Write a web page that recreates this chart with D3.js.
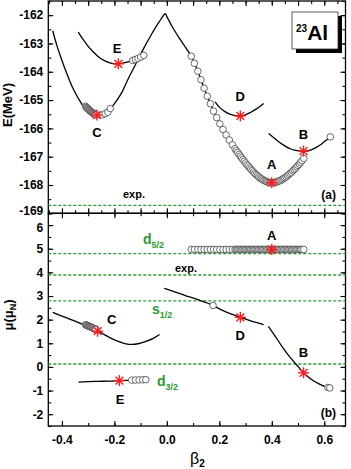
<!DOCTYPE html>
<html><head><meta charset="utf-8">
<script src="https://cdn.jsdelivr.net/npm/d3@7"></script>
<style>
body{margin:0;background:#fff}
text{font-family:"Liberation Sans",Arial,sans-serif;font-weight:bold}
</style>
</head><body><script>
const Width = 351, Height = 469;

// ---- panel (a): energy curves, [beta2, E]
const curveCA = [[-0.435,-162.55],[-0.42,-163.05],[-0.40,-163.6],[-0.38,-164.1],[-0.36,-164.55],[-0.34,-164.9],
  [-0.32,-165.2],[-0.30,-165.4],[-0.28,-165.52],[-0.265,-165.55],[-0.25,-165.52],[-0.23,-165.42],[-0.21,-165.25],
  [-0.19,-165.0],[-0.17,-164.7],[-0.15,-164.3],[-0.12,-163.75],[-0.09,-163.2],[-0.06,-162.7],[-0.03,-162.25],
  [-0.006,-161.95],[0.0,-162.05],[0.02,-162.4],[0.05,-162.85],[0.093,-163.45],[0.118,-163.98],[0.142,-164.58],
  [0.166,-165.13],[0.19,-165.62],[0.214,-166.04],[0.238,-166.41],[0.26,-166.72],[0.28,-166.98],[0.30,-167.22],
  [0.32,-167.44],[0.34,-167.63],[0.36,-167.78],[0.38,-167.88],[0.40,-167.92],[0.42,-167.89],[0.44,-167.8],
  [0.46,-167.67],[0.48,-167.5],[0.50,-167.31],[0.522,-167.06]];
const curveE = [[-0.338,-162.6],[-0.32,-162.85],[-0.30,-163.1],[-0.28,-163.3],[-0.26,-163.48],[-0.24,-163.6],
  [-0.22,-163.68],[-0.20,-163.72],[-0.185,-163.72],[-0.16,-163.68],[-0.13,-163.6],[-0.10,-163.48],[-0.087,-163.4]];
const curveD = [[0.184,-165.06],[0.20,-165.25],[0.22,-165.4],[0.24,-165.5],[0.26,-165.55],[0.28,-165.56],
  [0.30,-165.52],[0.32,-165.43],[0.34,-165.32],[0.369,-165.12]];
const curveB = [[0.388,-166.18],[0.41,-166.35],[0.43,-166.5],[0.45,-166.62],[0.47,-166.72],[0.49,-166.78],
  [0.51,-166.8],[0.53,-166.8],[0.55,-166.76],[0.57,-166.67],[0.59,-166.55],[0.61,-166.4],[0.623,-166.3]];

// constrained-deformation points of state A
const circA_beta = [0.093,0.105,0.118,0.13,0.142,0.154,0.166,0.178,0.19,0.202,0.214,0.226,0.238,0.25,
  0.26,0.265,0.27,0.275,0.28,0.285,0.29,0.295,0.30,0.305,0.31,0.315,0.32,0.325,0.33,0.335,0.34,0.345,0.35,0.355,
  0.36,0.365,0.37,0.375,0.38,0.385,0.39,0.395,0.40,0.405,0.41,0.415,0.42,0.425,0.43,0.435,0.44,0.445,0.45,0.455,
  0.46,0.465,0.47,0.475,0.48,0.485,0.49,0.495,0.50,0.505,0.51,0.515,0.522];
const circA_E = [-163.45,-163.7,-163.98,-164.28,-164.58,-164.86,-165.13,-165.39,-165.62,-165.84,-166.04,-166.23,
  -166.41,-166.58,
  -166.72,-166.79,-166.85,-166.92,-166.98,-167.04,-167.1,-167.16,-167.22,-167.28,-167.33,-167.39,-167.44,-167.49,
  -167.54,-167.59,-167.63,-167.67,-167.71,-167.75,-167.78,-167.81,-167.84,-167.86,-167.88,-167.9,-167.91,-167.92,
  -167.92,-167.92,-167.91,-167.9,-167.89,-167.87,-167.85,-167.83,-167.8,-167.77,-167.74,-167.71,-167.67,-167.63,
  -167.59,-167.55,-167.5,-167.46,-167.41,-167.36,-167.31,-167.26,-167.2,-167.14,-167.06];
const circA_mu = [4.97,4.97,4.97,4.97,4.97,4.97,4.97,4.97,4.97,4.97,4.97,4.97,4.97,4.97,
  4.97,4.97,4.97,4.97,4.97,4.97,4.97,4.97,4.97,4.97,4.97,4.97,4.97,4.97,4.97,4.97,4.97,4.97,4.97,4.97,
  4.97,4.97,4.97,4.97,4.97,4.97,4.97,4.97,4.97,4.97,4.97,4.97,4.97,4.97,4.97,4.97,4.97,4.97,4.97,4.97,
  4.97,4.97,4.97,4.97,4.97,4.97,4.97,4.97,4.97,4.97,4.97,4.97,4.97];

const circC_beta = [-0.31,-0.3075,-0.305,-0.3025,-0.30,-0.2975,-0.295,-0.2925,-0.29,-0.2875,-0.285,-0.2825,
  -0.28,-0.2775,-0.275,-0.2725,-0.27,-0.245,-0.235,-0.225,-0.216];
const circC_E = [-165.22,-165.25,-165.27,-165.3,-165.32,-165.34,-165.36,-165.38,-165.4,-165.42,-165.44,-165.46,
  -165.47,-165.49,-165.5,-165.51,-165.52,-165.52,-165.48,-165.43,-165.3];
const circE_beta = [-0.13,-0.12,-0.11,-0.10,-0.088];
const circE_E = [-163.6,-163.57,-163.53,-163.48,-163.42];
const circB_beta = [0.623];
const circB_E = [-166.3];

// stars [beta2, E] and state labels [name, beta2, E of baseline]
const starsA = [[0.40,-167.92],[0.521,-166.8],[-0.267,-165.53],[0.28,-165.56],[-0.185,-163.72]];
const labelsA = [["A",0.40,-167.45],["B",0.521,-166.39],["C",-0.267,-166.32],["D",0.28,-165.05],["E",-0.19,-163.35]];
const expE = -168.72;

// ---- panel (b): magnetic moments, [beta2, mu]
const momC = [[-0.435,2.31],[-0.40,2.15],[-0.36,1.98],[-0.32,1.8],[-0.28,1.6],[-0.264,1.51],[-0.24,1.38],
  [-0.21,1.2],[-0.18,1.06],[-0.16,0.99],[-0.134,0.95],[-0.11,0.98],[-0.08,1.08],[-0.05,1.22],[-0.028,1.37]];
const momE = [[-0.337,-0.64],[-0.30,-0.62],[-0.26,-0.61],[-0.22,-0.6],[-0.181,-0.58],[-0.14,-0.56],[-0.10,-0.55],[-0.08,-0.54]];
const momD = [[-0.01,3.32],[0.03,3.18],[0.07,3.02],[0.11,2.88],[0.15,2.72],[0.176,2.60],[0.21,2.4],[0.25,2.22],
  [0.28,2.10],[0.32,1.95],[0.369,1.79]];
const momB = [[0.387,1.72],[0.41,1.35],[0.44,0.85],[0.47,0.4],[0.50,0.02],[0.521,-0.25],[0.55,-0.52],[0.58,-0.72],
  [0.60,-0.82],[0.621,-0.89]];

const circCb_beta = [-0.31,-0.3075,-0.305,-0.3025,-0.30,-0.2975,-0.295,-0.2925,-0.29,-0.2875,-0.285,-0.2825,
  -0.28,-0.2775,-0.275,-0.2725,-0.27];
const circCb_mu = [1.78,1.77,1.76,1.75,1.73,1.72,1.71,1.7,1.69,1.67,1.66,1.65,1.63,1.62,1.61,1.6,1.58];
const circEb_beta = [-0.134,-0.12,-0.106,-0.092,-0.08];
const circEb_mu = [-0.56,-0.555,-0.55,-0.545,-0.54];
const circDb = [[0.176,2.60]];
const circBb = [[0.614,-0.87],[0.621,-0.89]];

const starsB = [[0.40,4.97],[0.521,-0.25],[-0.264,1.51],[0.28,2.10],[-0.181,-0.58]];
const labelsB = [["A",0.40,5.39],["B",0.521,0.41],["C",-0.21,1.82],["D",0.28,1.16],["E",-0.178,-1.59]];

// schmidt / exp lines: d5/2, exp, s1/2, d3/2
const refMu = [4.793, 3.889, 2.793, 0.124];

// ---- scales
const x = d3.scaleLinear().domain([-0.452, 0.681]).range([48.3, 345.5]);
const yA = d3.scaleLinear().domain([-169, -161.5]).range([213.3, 1]);
const yB = d3.scaleLinear().domain([-2.5, 6.5]).range([426, 213.3]);

const svg = d3.select('body').append('svg')
  .attr('width', Width).attr('height', Height);
svg.append('rect').attr('width', Width).attr('height', Height).attr('fill', '#fff');

const green = '#2e9a2e';

const axisStyle = g => {
  g.select('.domain').remove();
  g.selectAll('line').attr('stroke', '#000').attr('stroke-width', 1.1);
  g.selectAll('text').attr('font-size', 12).attr('fill', '#000')
    .attr('font-family', '"Liberation Sans",Arial,sans-serif').attr('font-weight', 'bold');
};

const range = (a, b, s) => d3.range(a, b + s / 2, s);

function drawFrame(y, yMajor, yMinor, xMajorTop, xMinorTop, xMajorBot, xMinorBot, xLabels) {
  const [y0, y1] = y.range();
  // left
  svg.append('g').attr('transform', `translate(${x.range()[0]},0)`)
    .call(d3.axisLeft(y).tickValues(yMinor).tickSize(-3).tickFormat('')).call(axisStyle);
  const left = svg.append('g').attr('transform', `translate(${x.range()[0]},0)`)
    .call(d3.axisLeft(y).tickValues(yMajor).tickSize(-5).tickPadding(5).tickFormat(d => String(Math.round(d))))
    .call(axisStyle);
  // right
  svg.append('g').attr('transform', `translate(${x.range()[1]},0)`)
    .call(d3.axisRight(y).tickValues(yMinor).tickSize(-3).tickFormat('')).call(axisStyle);
  svg.append('g').attr('transform', `translate(${x.range()[1]},0)`)
    .call(d3.axisRight(y).tickValues(yMajor).tickSize(-5).tickFormat('')).call(axisStyle);
  // top
  svg.append('g').attr('transform', `translate(0,${y1})`)
    .call(d3.axisTop(x).tickValues(xMinorTop).tickSize(-3).tickFormat('')).call(axisStyle);
  svg.append('g').attr('transform', `translate(0,${y1})`)
    .call(d3.axisTop(x).tickValues(xMajorTop).tickSize(-5).tickFormat('')).call(axisStyle);
  // bottom
  svg.append('g').attr('transform', `translate(0,${y0})`)
    .call(d3.axisBottom(x).tickValues(xMinorBot).tickSize(-3).tickFormat('')).call(axisStyle);
  svg.append('g').attr('transform', `translate(0,${y0})`)
    .call(d3.axisBottom(x).tickValues(xMajorBot).tickSize(-5).tickPadding(9)
      .tickFormat(xLabels ? (d => (Math.abs(d) < 1e-9 ? 0 : d).toFixed(1)) : ''))
    .call(axisStyle);
  svg.append('rect')
    .attr('x', x.range()[0]).attr('y', y1)
    .attr('width', x.range()[1] - x.range()[0]).attr('height', y0 - y1)
    .attr('fill', 'none').attr('stroke', '#000').attr('stroke-width', 1.3);
  return left;
}

const line = (y) => d3.line().x(d => x(d[0])).y(d => y(d[1])).curve(d3.curveCatmullRom);

function drawCurves(y, curves) {
  svg.append('g').selectAll('path').data(curves).join('path')
    .attr('d', line(y)).attr('fill', 'none').attr('stroke', '#000').attr('stroke-width', 1.3);
}
function drawCircles(y, pts) {
  svg.append('g').selectAll('circle').data(pts).join('circle')
    .attr('cx', d => x(d[0])).attr('cy', d => y(d[1])).attr('r', 3.3)
    .attr('fill', '#fff').attr('stroke', '#444').attr('stroke-width', 0.8);
}
function drawStars(y, pts) {
  const g = svg.append('g').selectAll('g').data(pts).join('g')
    .attr('transform', d => `translate(${x(d[0])},${y(d[1])})`);
  [0, 45, 90, 135].forEach(a => {
    g.append('line').attr('x1', -5.5).attr('x2', 5.5).attr('y1', 0).attr('y2', 0)
      .attr('transform', `rotate(${a})`).attr('stroke', '#ff1a1a').attr('stroke-width', 1.4);
  });
}
function drawLabels(y, labs) {
  svg.append('g').selectAll('text').data(labs).join('text')
    .attr('x', d => x(d[1])).attr('y', d => y(d[2])).attr('text-anchor', 'middle')
    .attr('font-size', 13).text(d => d[0]);
}
const zip = (a, b) => a.map((v, i) => [v, b[i]]);

// ---- panel (a)
const leftA = drawFrame(yA, range(-169, -162, 1), range(-169, -161.5, 0.5),
  range(-0.4, 0.6, 0.1), range(-0.45, 0.65, 0.05), range(-0.4, 0.6, 0.1), range(-0.45, 0.65, 0.05), false);
leftA.selectAll('text').filter(d => d === -169).attr('dy', '0.1em');

svg.append('line').attr('x1', x.range()[0]).attr('x2', x.range()[1])
  .attr('y1', yA(expE)).attr('y2', yA(expE))
  .attr('stroke', green).attr('stroke-width', 1.3).attr('stroke-dasharray', '3,2');
svg.append('text').attr('x', 134).attr('y', yA(expE) - 7).attr('text-anchor', 'middle')
  .attr('font-size', 11).text('exp.');

drawCurves(yA, [curveCA, curveE, curveD, curveB]);
drawCircles(yA, zip(circC_beta, circC_E));
drawCircles(yA, zip(circE_beta, circE_E));
drawCircles(yA, zip(circA_beta, circA_E));
drawCircles(yA, zip(circB_beta, circB_E));
drawStars(yA, starsA);
drawLabels(yA, labelsA);
svg.append('text').attr('x', 336).attr('y', 199).attr('text-anchor', 'end').attr('font-size', 12).text('(a)');

// 23Al box
svg.append('rect').attr('x', 296).attr('y', 16).attr('width', 46).attr('height', 37).attr('fill', '#000');
svg.append('rect').attr('x', 292).attr('y', 12).attr('width', 46).attr('height', 37)
  .attr('fill', '#fff').attr('stroke', '#333').attr('stroke-width', 0.8);
const al = svg.append('text').attr('x', 296).attr('y', 40);
al.append('tspan').attr('font-size', 10).attr('dy', -8).text('23');
al.append('tspan').attr('font-size', 21).attr('dy', 8).text('Al');

// ---- panel (b)
const leftB = drawFrame(yB, range(-2, 6, 1), range(-2.5, 6.5, 0.5),
  range(-0.4, 0.6, 0.2), range(-0.4, 0.6, 0.1), range(-0.4, 0.6, 0.2), range(-0.4, 0.6, 0.1), true);
leftB.selectAll('text').filter(d => d === 6).attr('dy', '0.5em');

svg.append('g').selectAll('line').data(refMu).join('line')
  .attr('x1', x.range()[0]).attr('x2', x.range()[1])
  .attr('y1', d => yB(d)).attr('y2', d => yB(d))
  .attr('stroke', green).attr('stroke-width', 1.3).attr('stroke-dasharray', '3,2');

const sub = (tx, ty, main, s, fill) => {
  const t = svg.append('text').attr('x', tx).attr('y', ty).attr('fill', fill);
  t.append('tspan').attr('font-size', 14).text(main);
  t.append('tspan').attr('font-size', 9).attr('dy', 4).text(s);
};
sub(143, 244, 'd', '5/2', green);
sub(152, 314, 's', '1/2', green);
sub(157, 386, 'd', '3/2', green);
svg.append('text').attr('x', 186).attr('y', 272).attr('text-anchor', 'middle').attr('font-size', 11).text('exp.');

drawCurves(yB, [momC, momE, momD, momB]);
drawCircles(yB, zip(circCb_beta, circCb_mu));
drawCircles(yB, zip(circEb_beta, circEb_mu));
drawCircles(yB, zip(circA_beta, circA_mu));
drawCircles(yB, circDb);
drawCircles(yB, circBb);
drawStars(yB, starsB);
drawLabels(yB, labelsB);
svg.append('text').attr('x', 336).attr('y', 417).attr('text-anchor', 'end').attr('font-size', 12).text('(b)');

// axis titles
svg.append('text').attr('transform', 'translate(12,105) rotate(-90)').attr('text-anchor', 'middle')
  .attr('font-size', 13).text('E(MeV)');
const mu = svg.append('text').attr('transform', 'translate(13,315) rotate(-90)').attr('text-anchor', 'middle')
  .attr('font-size', 13);
mu.append('tspan').text('μ(μ');
mu.append('tspan').attr('font-size', 9).attr('dy', 3).text('N');
mu.append('tspan').attr('dy', -3).text(')');
const bt = svg.append('text').attr('x', 190).attr('y', 464);
bt.append('tspan').attr('font-size', 16).attr('font-weight', 'normal').text('β');
bt.append('tspan').attr('font-size', 10).attr('dy', 3).text('2');
</script></body></html>
